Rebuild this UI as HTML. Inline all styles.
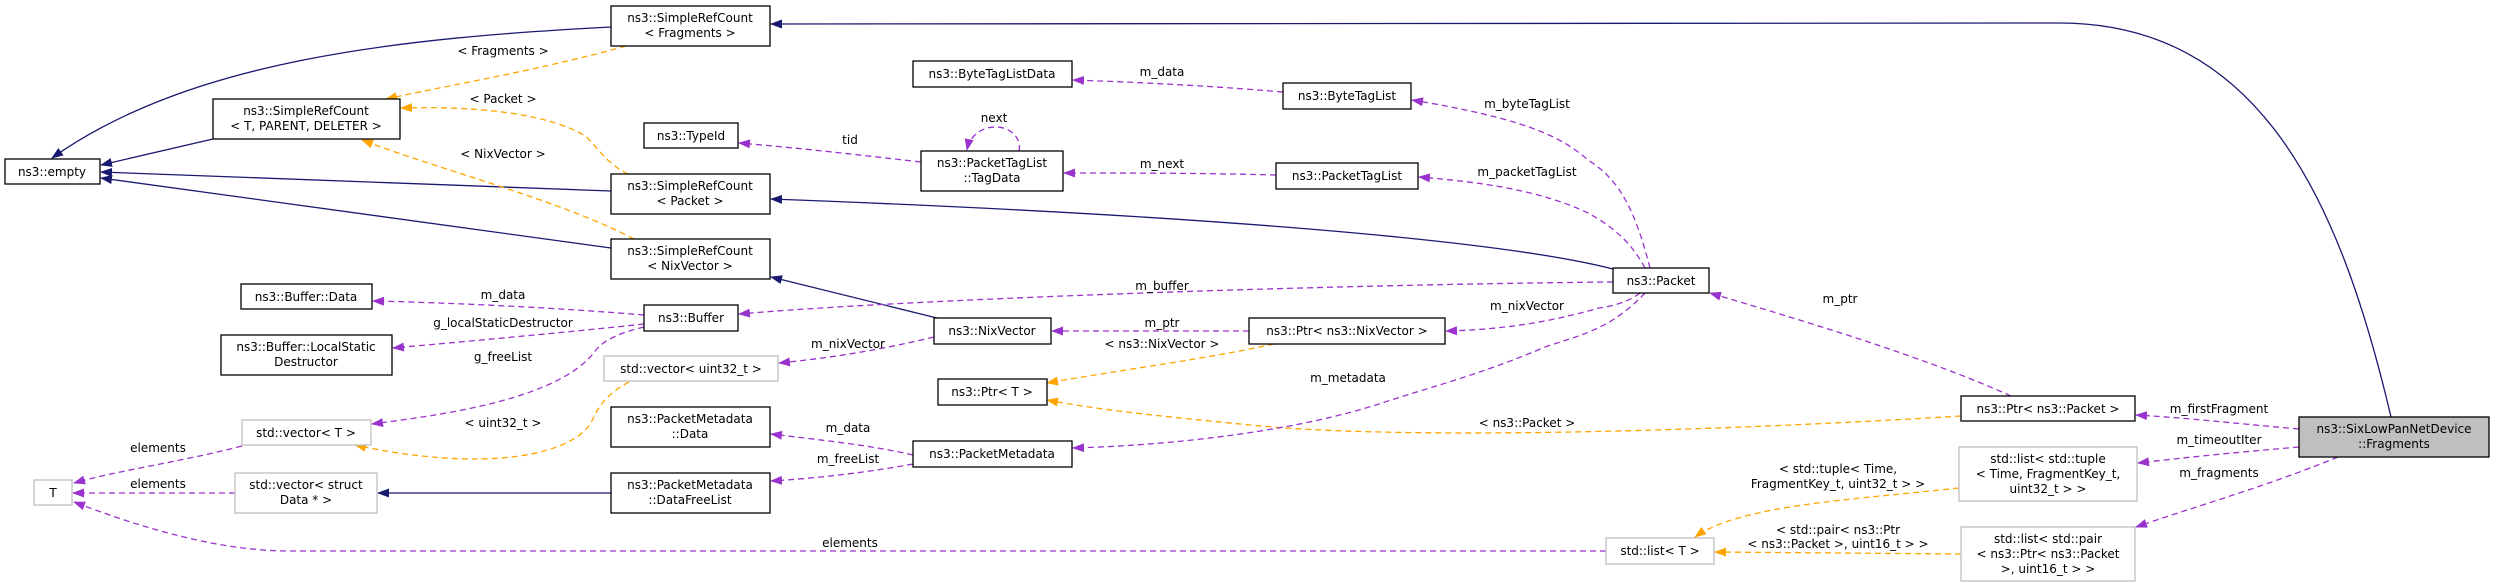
<!DOCTYPE html>
<html><head><meta charset="utf-8"><style>
html,body{margin:0;padding:0;background:#fff;}
svg{display:block;}
text{font-family:"DejaVu Sans","Liberation Sans",sans-serif;font-size:12px;fill:#000;}
.n{fill:#fff;stroke:#000;stroke-width:1.3;}
.g{fill:#fff;stroke:#bfbfbf;stroke-width:1.3;}
.nv{fill:none;stroke:#191970;stroke-width:1.3;}
.pu{fill:none;stroke:#9a32cd;stroke-width:1.3;stroke-dasharray:6,4;}
.or{fill:none;stroke:#ffa500;stroke-width:1.3;stroke-dasharray:6,4;}
</style></head><body>
<svg width="2495" height="587" viewBox="0 0 2495 587" xmlns="http://www.w3.org/2000/svg">
<defs>
<marker id="an" markerUnits="userSpaceOnUse" markerWidth="12" markerHeight="9" refX="11" refY="4.5" orient="auto"><path d="M0,0 L12,4.5 L0,9 z" fill="#191970"/></marker>
<marker id="ap" markerUnits="userSpaceOnUse" markerWidth="12" markerHeight="9" refX="11" refY="4.5" orient="auto"><path d="M0,0 L12,4.5 L0,9 z" fill="#9a32cd"/></marker>
<marker id="ao" markerUnits="userSpaceOnUse" markerWidth="12" markerHeight="9" refX="11" refY="4.5" orient="auto"><path d="M0,0 L12,4.5 L0,9 z" fill="#ffa500"/></marker>
</defs>
<g text-anchor="middle">
<!-- navy edges -->
<path class="nv" marker-end="url(#an)" d="M611,27 C400,38 190,60 52,158"/>
<path class="nv" marker-end="url(#an)" d="M213,139 L101,165"/>
<path class="nv" marker-end="url(#an)" d="M611,191 L101,172"/>
<path class="nv" marker-end="url(#an)" d="M611,248 L101,178"/>
<path class="nv" marker-end="url(#an)" d="M2391,417 C2340,200 2260,23 2059,23 L771,24"/>
<path class="nv" marker-end="url(#an)" d="M1613,269 C1500,240 1200,215 771,199"/>
<path class="nv" marker-end="url(#an)" d="M937,318 L771,277"/>
<path class="nv" marker-end="url(#an)" d="M611,493 L378,493"/>
<!-- orange edges -->
<path class="or" marker-end="url(#ao)" d="M626,46 C540,70 450,85 386,99"/>
<path class="or" marker-end="url(#ao)" d="M628,174 C600,160 595,140 580,133 C540,112 470,106 401,108"/>
<path class="or" marker-end="url(#ao)" d="M634,239 C560,200 440,170 362,140"/>
<path class="or" marker-end="url(#ao)" d="M629,382 C595,400 595,420 588,427 C560,460 470,470 355,445"/>
<path class="or" marker-end="url(#ao)" d="M1274,344 C1200,360 1120,370 1047,383"/>
<path class="or" marker-end="url(#ao)" d="M1961,416 C1700,432 1400,440 1250,425 C1150,415 1100,410 1047,400"/>
<path class="or" marker-end="url(#ao)" d="M1959,488 C1850,500 1740,505 1695,537"/>
<path class="or" marker-end="url(#ao)" d="M1961,554 L1715,552"/>
<!-- purple edges -->
<path class="pu" marker-end="url(#ap)" d="M644,315 C560,308 460,303 373,301"/>
<path class="pu" marker-end="url(#ap)" d="M644,324 C560,333 460,342 393,348"/>
<path class="pu" marker-end="url(#ap)" d="M644,327 C610,335 600,345 596,350 C560,400 440,415 372,424"/>
<path class="pu" marker-end="url(#ap)" d="M242,446 C180,462 120,470 74,483"/>
<path class="pu" marker-end="url(#ap)" d="M235,493 L73,493"/>
<path class="pu" marker-end="url(#ap)" d="M1606,551 L290,551 C230,551 160,535 74,502"/>
<path class="pu" marker-end="url(#ap)" d="M921,162 C860,155 800,148 739,143"/>
<path class="pu" marker-end="url(#ap)" d="M1019,151 C1022,138 1010,127 996,127 C982,127 970,135 967,150"/>
<path class="pu" marker-end="url(#ap)" d="M1283,92 C1200,85 1130,82 1073,80"/>
<path class="pu" marker-end="url(#ap)" d="M1276,175 C1200,173 1130,173 1064,173"/>
<path class="pu" marker-end="url(#ap)" d="M1650,268 C1635,210 1620,180 1588,160 C1560,135 1520,118 1412,100"/>
<path class="pu" marker-end="url(#ap)" d="M1645,268 C1630,240 1610,225 1588,213 C1540,190 1480,182 1419,177"/>
<path class="pu" marker-end="url(#ap)" d="M1613,282 C1300,285 900,300 739,314"/>
<path class="pu" marker-end="url(#ap)" d="M1640,293 C1625,305 1600,308 1599,308 C1540,325 1490,330 1446,331"/>
<path class="pu" marker-end="url(#ap)" d="M1645,293 C1610,330 1580,335 1545,347 C1480,375 1420,390 1382,403 C1300,430 1180,445 1073,448"/>
<path class="pu" marker-end="url(#ap)" d="M1249,331 L1052,331"/>
<path class="pu" marker-end="url(#ap)" d="M934,337 C880,350 830,358 779,363"/>
<path class="pu" marker-end="url(#ap)" d="M913,455 C870,445 820,440 771,434"/>
<path class="pu" marker-end="url(#ap)" d="M913,464 C870,472 820,478 771,481"/>
<path class="pu" marker-end="url(#ap)" d="M2011,396 C1920,355 1800,320 1710,293"/>
<path class="pu" marker-end="url(#ap)" d="M2299,429 C2240,424 2190,418 2136,415"/>
<path class="pu" marker-end="url(#ap)" d="M2299,447 C2240,452 2190,457 2138,463"/>
<path class="pu" marker-end="url(#ap)" d="M2338,457 C2270,485 2200,505 2136,527"/>

<!-- edge labels -->
<text x="503" y="55">&lt; Fragments &gt;</text>
<text x="503" y="103">&lt; Packet &gt;</text>
<text x="503" y="158">&lt; NixVector &gt;</text>
<text x="503" y="299">m_data</text>
<text x="503" y="327">g_localStaticDestructor</text>
<text x="503" y="361">g_freeList</text>
<text x="503" y="427">&lt; uint32_t &gt;</text>
<text x="158" y="452">elements</text>
<text x="158" y="488">elements</text>
<text x="850" y="547">elements</text>
<text x="850" y="144">tid</text>
<text x="994" y="122">next</text>
<text x="1162" y="76">m_data</text>
<text x="1162" y="168">m_next</text>
<text x="1527" y="108">m_byteTagList</text>
<text x="1527" y="176">m_packetTagList</text>
<text x="1162" y="290">m_buffer</text>
<text x="1527" y="310">m_nixVector</text>
<text x="1162" y="327">m_ptr</text>
<text x="1162" y="348">&lt; ns3::NixVector &gt;</text>
<text x="848" y="348">m_nixVector</text>
<text x="1348" y="382">m_metadata</text>
<text x="1527" y="427">&lt; ns3::Packet &gt;</text>
<text x="848" y="432">m_data</text>
<text x="848" y="463">m_freeList</text>
<text x="1840" y="303">m_ptr</text>
<text x="2219" y="413">m_firstFragment</text>
<text x="2219" y="444">m_timeoutIter</text>
<text x="2219" y="477">m_fragments</text>
<text x="1838" y="473">&lt; std::tuple&lt; Time,</text>
<text x="1838" y="488">FragmentKey_t, uint32_t &gt; &gt;</text>
<text x="1838" y="534">&lt; std::pair&lt; ns3::Ptr</text>
<text x="1838" y="548">&lt; ns3::Packet &gt;, uint16_t &gt; &gt;</text>

<!-- nodes -->
<rect class="n" x="5" y="159" width="95" height="25"/><text x="52" y="176">ns3::empty</text>
<rect class="n" x="611" y="6" width="159" height="40"/><text x="690" y="22">ns3::SimpleRefCount</text><text x="690" y="37">&lt; Fragments &gt;</text>
<rect class="n" x="213" y="99" width="187" height="40"/><text x="306" y="115">ns3::SimpleRefCount</text><text x="306" y="130">&lt; T, PARENT, DELETER &gt;</text>
<rect class="n" x="644" y="123" width="94" height="25"/><text x="691" y="140">ns3::TypeId</text>
<rect class="n" x="611" y="174" width="159" height="40"/><text x="690" y="190">ns3::SimpleRefCount</text><text x="690" y="205">&lt; Packet &gt;</text>
<rect class="n" x="611" y="239" width="159" height="40"/><text x="690" y="255">ns3::SimpleRefCount</text><text x="690" y="270">&lt; NixVector &gt;</text>
<rect class="n" x="241" y="284" width="131" height="25"/><text x="306" y="301">ns3::Buffer::Data</text>
<rect class="n" x="644" y="305" width="94" height="26"/><text x="691" y="322">ns3::Buffer</text>
<rect class="n" x="221" y="335" width="171" height="40"/><text x="306" y="351">ns3::Buffer::LocalStatic</text><text x="306" y="366">Destructor</text>
<rect class="g" x="604" y="356" width="174" height="25"/><text x="691" y="373">std::vector&lt; uint32_t &gt;</text>
<rect class="g" x="242" y="420" width="129" height="25"/><text x="306" y="437">std::vector&lt; T &gt;</text>
<rect class="n" x="611" y="407" width="159" height="40"/><text x="690" y="423">ns3::PacketMetadata</text><text x="690" y="438">::Data</text>
<rect class="g" x="34" y="480" width="38" height="25"/><text x="53" y="497">T</text>
<rect class="g" x="235" y="473" width="142" height="40"/><text x="306" y="489">std::vector&lt; struct</text><text x="306" y="504">Data * &gt;</text>
<rect class="n" x="611" y="473" width="159" height="40"/><text x="690" y="489">ns3::PacketMetadata</text><text x="690" y="504">::DataFreeList</text>
<rect class="n" x="913" y="61" width="159" height="26"/><text x="992" y="78">ns3::ByteTagListData</text>
<rect class="n" x="1283" y="83" width="128" height="26"/><text x="1347" y="100">ns3::ByteTagList</text>
<rect class="n" x="921" y="151" width="142" height="40"/><text x="992" y="167">ns3::PacketTagList</text><text x="992" y="182">::TagData</text>
<rect class="n" x="1276" y="163" width="142" height="26"/><text x="1347" y="180">ns3::PacketTagList</text>
<rect class="n" x="1613" y="268" width="96" height="25"/><text x="1661" y="285">ns3::Packet</text>
<rect class="n" x="934" y="318" width="117" height="26"/><text x="992" y="335">ns3::NixVector</text>
<rect class="n" x="1249" y="318" width="196" height="26"/><text x="1347" y="335">ns3::Ptr&lt; ns3::NixVector &gt;</text>
<rect class="n" x="938" y="379" width="109" height="26"/><text x="992" y="396">ns3::Ptr&lt; T &gt;</text>
<rect class="n" x="913" y="441" width="159" height="26"/><text x="992" y="458">ns3::PacketMetadata</text>
<rect class="g" x="1606" y="538" width="108" height="26"/><text x="1660" y="555">std::list&lt; T &gt;</text>
<rect class="n" x="1961" y="396" width="174" height="25"/><text x="2048" y="413">ns3::Ptr&lt; ns3::Packet &gt;</text>
<rect x="2299" y="417" width="190" height="40" fill="#bfbfbf" stroke="#000" stroke-width="1.3"/><text x="2394" y="433">ns3::SixLowPanNetDevice</text><text x="2394" y="448">::Fragments</text>
<rect class="g" x="1959" y="447" width="178" height="54"/><text x="2048" y="463">std::list&lt; std::tuple</text><text x="2048" y="478">&lt; Time, FragmentKey_t,</text><text x="2048" y="493">uint32_t &gt; &gt;</text>
<rect class="g" x="1961" y="527" width="174" height="54"/><text x="2048" y="543">std::list&lt; std::pair</text><text x="2048" y="558">&lt; ns3::Ptr&lt; ns3::Packet</text><text x="2048" y="573">&gt;, uint16_t &gt; &gt;</text>
</g>
</svg>
</body></html>
